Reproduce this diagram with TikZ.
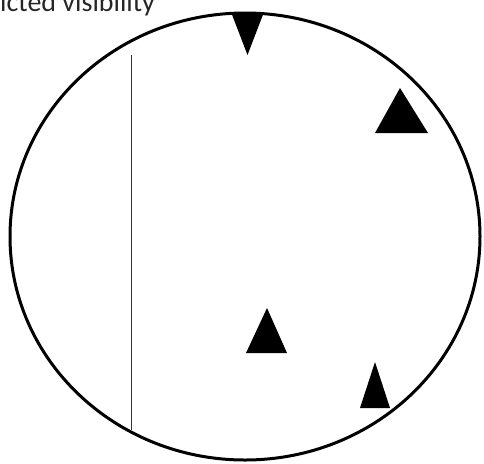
\documentclass[tikz,border=0pt]{standalone}
\usepackage{fontspec}
\setmainfont{Carlito}
\begin{document}
\begin{tikzpicture}[x=1pt,y=-1pt,
  marker/.style={fill=black,draw=none},
  rim/.style={draw=black,line width=3pt}]
\useasboundingbox (0,0) rectangle (484,463);
\node[anchor=base west,inner sep=0pt,font=\fontsize{28}{30}\selectfont,text=black!85] (label) at (0,12) {icted visibility};
\draw[rim] (245,236.5) ellipse [x radius=235, y radius=223.5];
\coordinate (lt) at (131.5,55);
\coordinate (lb) at (131.5,430);
\draw[line width=1.2pt,black!80] (lt) -- (lb);
\fill[marker] (231,12) -- (264,12) -- (247.5,55) -- cycle;
\fill[marker] (375,133) -- (428,133) -- (400,88) -- cycle;
\fill[marker] (246,353) -- (287,353) -- (267,308) -- cycle;
\fill[marker] (360,408) -- (390,408) -- (375,362) -- cycle;
\end{tikzpicture}
\end{document}
